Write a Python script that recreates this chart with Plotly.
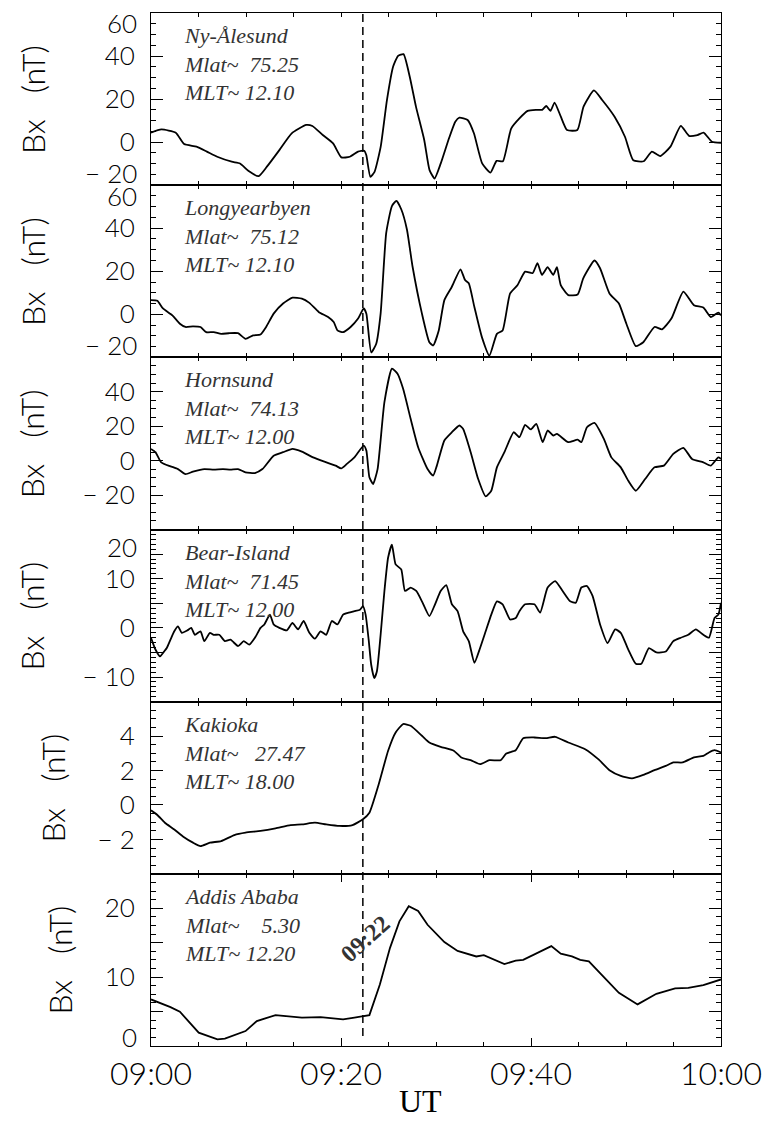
import plotly.graph_objects as go
from plotly.subplots import make_subplots

# ---------------- data (minutes after 09:00 UT, Bx in nT) ----------------
t_ny = [0.0, 1.09, 2.61, 3.49, 4.79, 5.88, 6.97, 8.50, 9.37, 10.24, 11.33, 12.20, 13.51, 14.81, 16.34, 16.99,
        18.08, 19.17, 20.04, 20.92, 21.79, 22.44, 22.66, 23.09, 23.53, 24.18, 24.84, 25.49, 26.01, 26.58, 27.23,
        27.89, 28.76, 29.32, 29.85, 30.50, 31.37, 32.03, 32.46, 33.33, 33.99, 34.86, 35.73, 36.38, 37.04, 37.91,
        38.78, 39.65, 40.52, 41.18, 41.61, 42.05, 42.48, 43.14, 43.79, 44.88, 45.53, 46.62, 47.49, 48.80, 49.89,
        50.76, 51.85, 52.72, 53.59, 54.68, 55.77, 56.64, 57.52, 58.17, 59.04, 60.0]
bx_ny = [4.4, 5.9, 4.4, -0.9, -2.1, -4.4, -6.8, -9.1, -9.9, -13.3, -15.8, -11.4, -3.7, 4.1, 8.0, 7.5,
         3.3, -0.6, -7.1, -6.8, -4.4, -4.0, -6.0, -16.1, -13.8, -2.1, 19.6, 35.1, 40.1, 40.9, 30.5,
         16.5, 1.0, -13.0, -16.9, -9.9, 1.8, 9.5, 11.4, 10.3, 4.1, -9.9, -14.2, -8.7, -8.9, 6.3,
         11.0, 14.5, 15.0, 15.0, 16.8, 14.5, 18.4, 11.8, 5.6, 5.6, 16.5, 24.0, 19.6, 11.8, 2.5,
         -8.4, -8.9, -4.4, -6.5, -2.1, 7.5, 2.9, 3.3, 4.4, 0.2, -0.3]

t_ly = [0.00, 0.67, 1.26, 2.25, 3.04, 3.63, 4.42, 5.21, 5.81, 6.60, 7.39, 8.18, 9.16, 9.95, 10.74, 11.53,
        12.12, 12.91, 13.90, 14.89, 15.88, 16.67, 17.65, 18.64, 19.23, 19.63, 20.22, 21.01, 21.80, 22.39,
        22.67, 23.18, 23.70, 24.17, 24.76, 25.36, 25.83, 26.34, 26.94, 27.53, 28.52, 29.30, 29.70, 30.29,
        30.88, 31.67, 32.58, 33.06, 33.45, 34.04, 34.83, 35.62, 36.41, 37.01, 37.80, 38.59, 39.38, 40.17,
        40.68, 41.15, 41.75, 42.34, 42.73, 43.13, 43.92, 44.91, 45.50, 46.68, 47.27, 48.26, 49.25, 50.04,
        51.03, 51.82, 53.00, 53.79, 54.78, 56.04, 57.15, 58.14, 58.93, 59.72, 60.00]
bx_ly = [6.6, 6.3, 2.7, -0.5, -4.4, -5.9, -5.6, -5.9, -8.3, -8.3, -9.1, -8.8, -8.8, -11.4, -9.8, -9.4,
         -5.9, 0.3, 5.0, 7.7, 7.3, 5.3, 1.1, -1.3, -3.6, -7.5, -8.3, -5.9, -2.0, 2.7,
         0.3, -17.7, -13.8, 0.3, 37.8, 50.3, 52.7, 48.8, 39.4, 22.2, 0.3, -13.0, -14.5, -7.5,
         6.6, 12.8, 20.9, 15.9, 14.4, 3.4, -10.6, -19.2, -9.1, -7.5, 9.7, 13.6, 19.8, 19.1,
         23.8, 18.3, 21.9, 18.3, 21.9, 13.6, 8.9, 9.2, 16.7, 25.0, 21.4, 9.7, 5.0, -4.4,
         -14.8, -13.0, -5.9, -7.0, -2.0, 10.5, 4.2, 3.1, -1.3, 0.8, -0.5]

t_ho = [0.00, 0.47, 1.07, 2.05, 2.84, 3.63, 4.42, 5.61, 6.60, 7.58, 8.37, 9.16, 9.95, 10.94, 11.73, 12.91,
        13.90, 14.89, 15.88, 17.06, 18.25, 19.43, 20.02, 20.62, 21.41, 22.39, 22.67, 22.99, 23.38, 23.85,
        24.57, 25.36, 25.95, 26.54, 27.33, 28.12, 29.11, 29.70, 30.09, 30.88, 31.67, 32.46, 32.86, 33.65,
        34.44, 35.23, 35.82, 36.41, 37.20, 38.19, 38.78, 39.38, 39.97, 40.56, 41.23, 41.75, 42.34, 42.73,
        43.92, 44.91, 45.30, 45.89, 46.68, 47.67, 48.46, 49.45, 50.24, 51.03, 52.01, 53.00, 53.99, 54.98,
        56.04, 56.95, 58.14, 58.93, 59.72, 60.00]
bx_ho = [6.8, 4.9, -1.0, -3.3, -4.9, -7.8, -6.4, -4.9, -5.2, -4.9, -5.2, -4.9, -6.8, -7.2, -4.9, 2.9,
         4.9, 6.8, 5.2, 1.9, -0.6, -2.9, -4.5, -1.9, 1.9, 8.7, 5.8, -9.7, -13.6, -4.9,
         34.0, 53.4, 50.5, 41.7, 24.3, 7.8, -4.9, -8.7, -2.9, 11.7, 16.5, 20.4, 18.4, 4.9,
         -10.7, -20.8, -17.5, -3.9, 4.9, 16.5, 13.6, 20.8, 18.1, 21.4, 10.7, 17.5, 14.6, 15.5,
         10.7, 12.2, 10.7, 19.4, 21.9, 12.6, 1.9, -3.9, -11.7, -17.5, -10.7, -3.9, -2.9, 3.9,
         7.4, 1.0, -1.0, -2.9, 1.9, 1.0]

t_bi = [0.00, 0.47, 0.95, 1.26, 1.66, 2.05, 2.45, 2.84, 3.24, 3.83, 4.23, 4.62, 5.21, 5.61, 6.20, 6.60,
        7.19, 7.78, 8.37, 9.16, 9.76, 10.35, 10.94, 11.53, 11.93, 12.52, 12.91, 13.51, 14.30, 14.89,
        15.48, 16.07, 16.67, 17.26, 17.85, 18.44, 19.04, 19.63, 20.22, 20.81, 21.41, 22.00, 22.31, 22.59,
        22.91, 23.18, 23.50, 23.78, 24.17, 24.57, 24.96, 25.36, 25.75, 26.34, 26.74, 27.33, 27.92, 28.52,
        29.30, 29.90, 30.49, 31.08, 31.67, 32.27, 32.86, 33.45, 34.04, 34.64, 35.23, 35.82, 36.41, 37.01,
        37.80, 38.39, 38.78, 39.38, 40.36, 40.96, 41.75, 42.54, 43.33, 44.12, 44.71, 45.30, 45.89, 46.48,
        47.27, 48.06, 48.86, 49.45, 50.24, 51.03, 51.62, 52.41, 53.20, 54.19, 54.98, 55.77, 56.56, 57.35,
        58.14, 58.73, 59.32, 59.72, 60.00]
bx_bi = [-2.0, -4.4, -5.8, -5.1, -4.1, -2.4, -0.7, 0.3, -1.0, -0.5, 0.0, -1.4, -0.7, -2.7, -1.0, -1.4,
         -1.4, -2.7, -2.4, -3.7, -2.7, -3.4, -2.0, 0.0, 0.7, 2.7, 0.7, 0.0, -0.5, 1.0,
         -0.3, 1.4, -1.0, -2.2, -0.7, -1.4, 1.4, 0.7, 2.7, 3.1, 3.4, 3.7, 4.4, 2.7,
         -2.4, -7.5, -10.2, -8.8, -1.4, 7.5, 14.3, 16.9, 12.9, 11.9, 7.5, 8.2, 7.5, 5.4,
         2.4, 4.8, 7.5, 8.7, 4.8, 3.4, -0.7, -2.7, -7.1, -4.1, -0.7, 2.7, 5.4, 4.8,
         1.7, 2.0, 3.4, 4.8, 4.8, 3.1, 8.2, 9.5, 7.5, 5.4, 5.1, 8.2, 8.5, 6.5,
         0.7, -3.1, -0.3, -1.0, -4.4, -7.3, -7.3, -4.1, -5.0, -4.8, -2.7, -2.0, -1.4, -0.3,
         -1.4, -2.0, 2.0, 2.7, 5.1]

t_ka = [0.00, 0.67, 1.46, 2.45, 3.44, 4.42, 5.21, 6.20, 7.39, 8.77, 9.95, 11.53, 13.11, 14.69, 15.88, 17.26,
        18.44, 19.83, 21.21, 22.31, 22.99, 23.97, 24.96, 25.75, 26.54, 27.33, 28.52, 29.30, 30.49, 31.87,
        32.66, 33.65, 34.64, 35.62, 36.81, 37.40, 38.39, 39.18, 40.36, 41.55, 42.54, 43.92, 45.70, 47.08,
        48.26, 49.45, 50.63, 51.82, 53.00, 54.19, 54.98, 55.96, 57.15, 58.14, 58.73, 59.32, 60.00]
bx_ka = [-0.31, -0.58, -1.03, -1.42, -1.86, -2.19, -2.39, -2.19, -2.10, -1.75, -1.61, -1.51, -1.36, -1.17,
         -1.13, -1.03, -1.13, -1.22, -1.17, -0.83, -0.45, 1.20, 3.15, 4.21, 4.70, 4.60, 4.02, 3.63, 3.38,
         3.15, 2.76, 2.60, 2.37, 2.60, 2.60, 2.99, 3.18, 3.88, 3.92, 3.88, 3.96, 3.63, 3.24, 2.66, 2.02,
         1.69, 1.55, 1.75, 2.02, 2.27, 2.47, 2.47, 2.76, 2.85, 3.05, 3.18, 3.05]

t_aa = [0.00, 2.05, 3.04, 5.02, 6.99, 7.78, 9.95, 11.14, 13.11, 14.49, 15.88, 17.85, 20.22, 21.41, 22.31,
        22.99, 24.09, 25.16, 26.15, 27.13, 28.12, 29.11, 30.88, 32.27, 34.24, 35.03, 37.20, 38.39, 39.18,
        40.56, 42.14, 43.13, 44.31, 45.18, 46.09, 47.27, 49.25, 51.22, 53.20, 55.17, 56.56, 58.14, 60.00]
bx_aa = [6.76, 5.65, 4.98, 1.93, 0.97, 1.06, 2.17, 3.62, 4.49, 4.35, 4.11, 4.20, 3.86, 4.11, 4.35,
         4.49, 8.94, 14.25, 18.10, 20.30, 19.60, 17.60, 15.10, 13.80, 13.00, 13.20, 11.90, 12.40, 12.50,
         13.40, 14.50, 13.40, 13.00, 12.50, 12.30, 10.60, 7.73, 6.04, 7.58, 8.36, 8.45, 8.84, 9.66]

stations = ["Ny-\u00c5lesund", "Longyearbyen", "Hornsund", "Bear-Island", "Kakioka", "Addis Ababa"]
mlat = ["75.25", "75.12", "74.13", "71.45", "27.47", "5.30"]
mlat_pad = [2, 2, 2, 2, 3, 4]
mlt = ["12.10", "12.10", "12.00", "12.00", "18.00", "12.20"]
times = [t_ny, t_ly, t_ho, t_bi, t_ka, t_aa]
values = [bx_ny, bx_ly, bx_ho, bx_bi, bx_ka, bx_aa]
smooth = [True, True, True, True, True, False]

MINUS = "\u2212\u00a0"
y_ranges = [[-20, 60], [-20, 60], [-40, 60], [-15, 20], [-4, 6], [0, 25]]
y_major = [[-20, 0, 20, 40, 60], [-20, 0, 20, 40, 60], [-40, -20, 0, 20, 40, 60],
           [-15, -10, -5, 0, 5, 10, 15, 20], [-4, -2, 0, 2, 4, 6], [0, 5, 10, 15, 20, 25]]
y_text = [["", "0", "20", "40", ""], ["", "0", "20", "40", ""], ["", MINUS + "20", "0", "20", "40", ""],
          ["", MINUS + "10", "", "0", "", "10", "", ""], ["", MINUS + "2", "0", "2", "4", ""],
          ["", "", "10", "", "20", ""]]
y_minor = [5, 5, 5, 1, 0.5, 1.25]
# edge tick labels drawn nudged inside the panel: (panel, value, text, shift px)
edge_labels = [(1, 60, "60", -10), (1, -20, MINUS + "20", 12), (2, 60, "60", -11), (2, -20, MINUS + "20", 12),
               (4, 20, "20", -17), (6, 0, "0", 9)]
ytitle_x = [31, 31, 31, 31, 52, 59]
ytitle = "Bx\u00a0\u00a0\u00a0(nT)"

onset = 22.3
x_ticks = [0, 20, 40, 60]
x_labels = ["09:00", "09:20", "09:40", "10:00"]

# ---------------- figure ----------------
W, H = 774, 1121
ML, MR, MT, MB = 151, 49, 13, 75
PW = W - ML - MR
PH = H - MT - MB
THIN = "DejaVu Sans ExtraLight, Lato, sans-serif"
TICKFONT = dict(family=THIN, size=26, color="black", weight=300)

fig = make_subplots(rows=6, cols=1, vertical_spacing=0)
n = len(stations)
for i in range(n):
    assert len(times[i]) == len(values[i])
    line = dict(color="black", width=1.8)
    if smooth[i]:
        line.update(shape="spline", smoothing=0.5)
    fig.add_trace(go.Scatter(x=times[i], y=values[i], mode="lines", line=line,
                             showlegend=False, hoverinfo="skip"), row=i + 1, col=1)
    sfx = "" if i == 0 else str(i + 1)
    dom = [1 - (i + 1) / n, 1 - i / n]
    fig.layout["xaxis" + sfx].update(
        domain=[0, 1], range=[0, 60], tickmode="array", tickvals=x_ticks,
        ticktext=x_labels if i == n - 1 else [""] * 4, showticklabels=(i == n - 1),
        ticks="inside", ticklen=8, tickwidth=1, tickcolor="black",
        minor=dict(tickmode="linear", tick0=0, dtick=5, ticks="inside", ticklen=4,
                   tickcolor="black", tickwidth=1, showgrid=False),
        showline=True, linecolor="black", linewidth=1, mirror="allticks",
        showgrid=False, zeroline=False,
        tickfont=dict(family=THIN, size=32, color="black", weight=300),
        ticklabelstandoff=0)
    fig.layout["yaxis" + sfx].update(
        domain=dom, range=y_ranges[i], tickmode="array", tickvals=y_major[i], ticktext=y_text[i],
        ticks="inside", ticklen=12, tickwidth=1, tickcolor="black",
        minor=dict(tickmode="linear", tick0=y_ranges[i][0], dtick=y_minor[i], ticks="inside",
                   ticklen=5, tickcolor="black", tickwidth=1, showgrid=False),
        showline=True, linecolor="black", linewidth=1, mirror="allticks",
        showgrid=False, zeroline=False, tickfont=TICKFONT, ticklabelstandoff=10)

    # station label
    txt = ("<i>%s<br>Mlat~%s%s<br>MLT~\u00a0%s</i>"
           % (stations[i], "\u00a0" * mlat_pad[i], mlat[i], mlt[i]))
    fig.add_annotation(text=txt, xref="x%s domain" % sfx, yref="y%s domain" % sfx, x=0, y=1,
                       xanchor="left", yanchor="top", xshift=31, yshift=-8, align="left",
                       showarrow=False, font=dict(family="Liberation Serif", size=22, color="#333333"))
    # y axis title
    fig.add_annotation(text=ytitle, xref="paper", yref="y%s domain" % sfx,
                       x=(ytitle_x[i] - ML) / PW, y=0.5, textangle=-90, showarrow=False,
                       xanchor="center", yanchor="middle",
                       font=dict(family=THIN, size=32, color="black", weight=300))

for (p, val, txt, sh) in edge_labels:
    sfx = "" if p == 1 else str(p)
    fig.add_annotation(text=txt, xref="paper", yref="y" + sfx, x=0, y=val, xanchor="right",
                       yanchor="middle", xshift=-12, yshift=sh, showarrow=False, font=TICKFONT)

# onset dashed line through all panels
fig.add_shape(type="line", xref="x", yref="paper", x0=onset, x1=onset, y0=0.0097, y1=1,
              line=dict(color="black", width=1.5, dash="8px,5px"))
fig.add_annotation(text="<b>09:22</b>", xref="x6", yref="y6", x=22.5, y=15.6, textangle=-42,
                   showarrow=False, font=dict(family="Liberation Serif", size=24, color="#333333"))
fig.add_annotation(text="UT", xref="paper", yref="paper", x=(422 - ML) / PW, y=-MB / PH,
                   xanchor="center", yanchor="bottom", yshift=0, showarrow=False,
                   font=dict(family="Liberation Serif", size=32, color="black"))

fig.update_layout(width=W, height=H, margin=dict(l=ML, r=MR, t=MT, b=MB),
                  paper_bgcolor="white", plot_bgcolor="white", showlegend=False)
fig.write_html("out.html")
